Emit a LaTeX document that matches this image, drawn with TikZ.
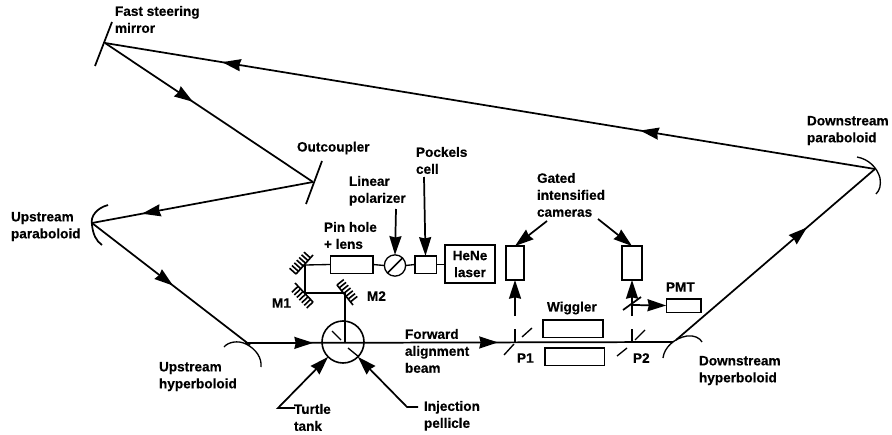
\documentclass[tikz,border=0pt]{standalone}
\usepackage{fontspec}
\setmainfont[BoldFeatures={FakeBold=0.4}]{Liberation Sans}
\usepackage{xcolor}
\usetikzlibrary{arrows.meta,decorations.markings,decorations.pathreplacing}
\tikzset{
    beamtip/.tip={Stealth[length=14pt, width=9pt, inset=1pt]},
    lbl/.style={inset, align=left, anchor=west, font=\fontsize{10.2}{12.7}\selectfont\bfseries},
    inset/.style={inner sep=0pt, outer sep=0pt},
    block/.style={rectangle, draw, inset, line width=1pt},
    beam/.style={line width=1.3pt},
    thinbeam/.style={line width=1pt},
    arrow/.style={-beamtip, line width=1.3pt},
    tipat/.style={postaction={decorate, decoration={markings, mark=at position #1 with {\arrow{beamtip}}}}},
    comb/.style={line width=1.2pt, postaction={draw, decorate, decoration={border, segment length=2.7pt, amplitude=6.5pt, angle=90}}}
}
\begin{document}
\begin{tikzpicture}[x=0.75pt, y=-0.75pt]
    \useasboundingbox (0,0) rectangle (892,435);
    % beam points
    \coordinate (fast) at (105,43);
    \coordinate (outc) at (313,182);
    \coordinate (upara) at (92,223);
    \coordinate (uhyp) at (250,345);
    \coordinate (ubeam) at (245,343);
    \coordinate (dbeam) at (673,342);
    \coordinate (dhyp) at (676,340);
    \coordinate (dpara) at (875,169);
    \coordinate (foldA) at (305,265);
    \coordinate (foldB) at (305,293);
    \coordinate (foldC) at (345,293);
    \coordinate (tank) at (345,343);

    % mirrors
    \draw[beam] (95,66) -- (112,22);
    \draw[beam] (306,204) -- (322,161);
    \draw[beam] (108,205) .. controls (97,208) and (90,216) .. (92,225) .. controls (93,234) and (96,241) .. (102,245);
    \draw[thinbeam] (224,347) .. controls (228,342) and (238,340) .. (246,344) .. controls (256,349) and (262,358) .. (261,367);
    \draw[thinbeam] (663,358) .. controls (664,348) and (674,338) .. (687,336) .. controls (694,335) and (700,338) .. (702,342);
    \draw[thinbeam] (857,157) .. controls (868,159) and (877,167) .. (880,178) .. controls (881,185) and (880,190) .. (876,194);

    % ring
    \draw[beam, tipat=0.423] (fast) -- (outc);
    \draw[beam, tipat=0.305, tipat=0.848] (dpara) -- (fast);
    \draw[beam, tipat=0.774] (outc) -- (upara);
    \draw[beam, tipat=0.513] (upara) -- (uhyp);
    \draw[beam, tipat=0.159, tipat=0.591] (ubeam) -- (dbeam);
    \draw[beam, tipat=0.658] (dhyp) -- (dpara);

    % alignment laser branch
    \node[block, minimum width=32pt, minimum height=13pt] (pinhole) at (351.5,264.5) {};
    \node[circle, draw, inset, line width=1pt, minimum size=16pt] (polar) at (395,265.5) {};
    \node[block, minimum width=16pt, minimum height=13pt] (pockels) at (425.5,264.5) {};
    \node[block, lbl, anchor=center, align=center, minimum width=37.5pt, minimum height=28.5pt, line width=1pt] (laser) at (470,264) {HeNe\\laser};
    \draw[thinbeam] (foldA) -- (pinhole.west);
    \draw[thinbeam] (pinhole.east) -- (polar.west);
    \draw[thinbeam] (polar.east) -- (pockels.west);
    \draw[thinbeam] (pockels.east) -- (laser.west |- pockels.east);
    \draw[beam] (polar.south west) -- (polar.north east);
    \draw[thinbeam] (foldA) -- (foldB) -- (foldC) -- (tank);

    % hatched mirrors
    \draw[comb] (296,274) -- (313,255);
    \draw[comb] (313,302) -- (295,283);
    \draw[comb] (337,285) -- (353,305);

    % turtle tank
    \node[circle, draw, inset, line width=1.2pt, minimum size=31.5pt] (turtle) at (343,342) {};
    \draw[thinbeam] (332,331) -- (341,340);
    \draw[thinbeam] (348,348) -- (359,357);

    % diagnostics
    \node[block, minimum width=13.5pt, minimum height=25.5pt] (camA) at (515,263) {};
    \node[block, minimum width=15pt, minimum height=25.5pt] (camB) at (632,263) {};
    \node[block, minimum width=26pt, minimum height=10pt] (pmt) at (683.5,305.5) {};
    \node[block, minimum width=45pt, minimum height=13pt] (wigA) at (573,328.5) {};
    \node[block, minimum width=44.5pt, minimum height=13pt] (wigB) at (574.5,356.5) {};
    \coordinate (startA) at (515,316);
    \coordinate (startB) at (632,316);
    \coordinate (split) at (632,305);
    \draw[arrow] (startA) -- (camA.south);
    \draw[arrow] (startB) -- (camB.south);
    \draw[arrow] (split) -- (pmt.west);
    \draw[beam] (623,310) -- (641,297);
    \draw[thinbeam] (515,329) -- (515,342);
    \draw[thinbeam] (522,337) -- (532,328);
    \draw[thinbeam] (504,355) -- (514,344);
    \draw[thinbeam] (632,329) -- (632,342);
    \draw[thinbeam] (635,340) -- (645,330);
    \draw[thinbeam] (617,356) -- (627,348);

    % labels
    \node[lbl, anchor=north west] (fastlbl) at (115,6) {Fast steering\\mirror};
    \node[lbl] (outlbl) at (297,148) {Outcoupler};
    \node[lbl, anchor=north west] (uparalbl) at (11,212) {Upstream\\paraboloid};
    \node[lbl, anchor=north west] (uhyplbl) at (159,362) {Upstream\\hyperboloid};
    \node[lbl, anchor=north west] (dparalbl) at (807,116) {Downstream\\paraboloid};
    \node[lbl, anchor=north west] (dhyplbl) at (699,356) {Downstream\\hyperboloid};
    \node[lbl, anchor=north west] (pockelslbl) at (416,147) {Pockels\\cell};
    \node[lbl, anchor=north west] (polarlbl) at (349,176) {Linear\\polarizer};
    \node[lbl, anchor=north west] (pinlbl) at (324,222) {Pin hole\\+ lens};
    \node[lbl, anchor=north west] (gatedlbl) at (537,173) {Gated\\intensified\\cameras};
    \node[lbl] (mA) at (272,303) {M1};
    \node[lbl] (mB) at (367,296) {M2};
    \node[lbl, anchor=north west] (turtlelbl) at (294,404) {Turtle\\tank};
    \node[lbl, anchor=north west] (injlbl) at (424,401) {Injection\\pellicle};
    \node[lbl, anchor=north west] (fwdlbl) at (405,329) {Forward\\alignment\\beam};
    \node[lbl] (pA) at (517,358) {P1};
    \node[lbl] (pB) at (633,358) {P2};
    \node[lbl] (wiglbl) at (547,308) {Wiggler};
    \node[lbl] (pmtlbl) at (666,287) {PMT};

    % pointers
    \coordinate (polarfrom) at (396,209);
    \coordinate (pockfrom) at (424,177);
    \coordinate (turtlefrom) at (295,408);
    \coordinate (turtlebend) at (278,408);
    \coordinate (injfrom) at (418,407);
    \coordinate (injbend) at (407,407);
    \coordinate (gatedA) at (547,221);
    \coordinate (gatedB) at (598,219);
    \draw[arrow] (polarfrom) -- (polar.north);
    \draw[arrow] (pockfrom) -- (pockels.north);
    \draw[arrow] (turtlefrom) -- (turtlebend) -- (turtle.225);
    \draw[arrow] (injfrom) -- (injbend) -- (turtle.-45);
    \draw[arrow] (gatedA) -- (camA.north);
    \draw[arrow] (gatedB) -- (camB.north);
\end{tikzpicture}
\end{document}
